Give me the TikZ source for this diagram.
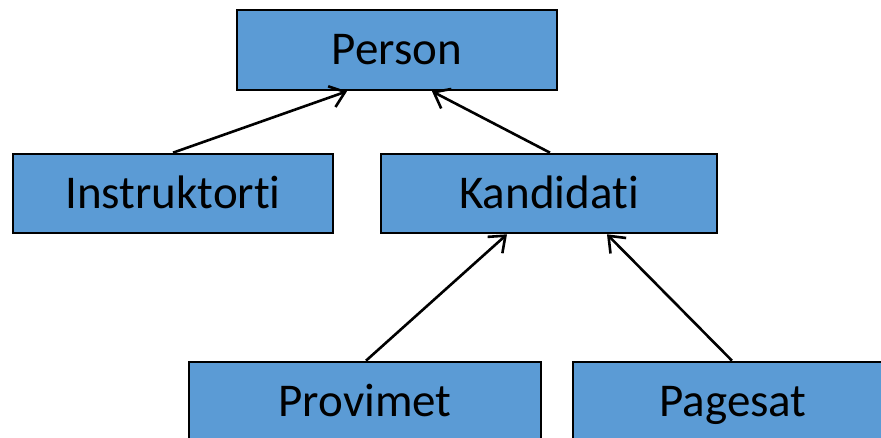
\documentclass[tikz,border=0pt]{standalone}
\usepackage{fontspec}
\setmainfont{Carlito}[Ligatures={NoCommon,NoRare,NoDiscretionary,NoContextual}]
\usetikzlibrary{arrows.meta}
\definecolor{boxblue}{HTML}{5B9BD5}
\tikzset{
  classbox/.style={draw=black, line width=2.6pt, fill=boxblue,
    minimum height=80pt, inner sep=0pt, text height=30pt, text depth=0pt,
    font=\fontsize{47}{50}\selectfont},
  inherit/.style={line width=2.6pt, -{Straight Barb[length=14pt,width=22pt,line width=2.6pt]}}
}
\begin{document}
\begin{tikzpicture}[x=1pt,y=1pt]
  \useasboundingbox (0,0) rectangle (881,438);
  \begin{scope}
    \clip (0,0) rectangle (881,438);
    % class boxes
    \node[classbox, minimum width=320pt] (person) at (397,388) {Person};
    \node[classbox, minimum width=320pt, minimum height=79pt] (inst) at (173,244.5) {Instruktorti};
    \node[classbox, minimum width=336pt, minimum height=79pt] (kand) at (549,244.5) {Kandidati};
    \node[classbox, minimum width=352pt] (prov) at (365,36) {Provimet};
    \node[classbox, minimum width=320pt] (pag) at (733,36) {Pagesat};
    % inheritance arrows
    \draw[inherit] (inst.north) -- ([xshift=-50pt]person.south);
    \draw[inherit] ([xshift=1pt]kand.north) -- ([xshift=35pt]person.south);
    \draw[inherit] ([xshift=1pt]prov.north) -- ([xshift=-42pt]kand.south);
    \draw[inherit] ([xshift=-1pt]pag.north) -- ([xshift=58pt]kand.south);
  \end{scope}
\end{tikzpicture}
\end{document}
